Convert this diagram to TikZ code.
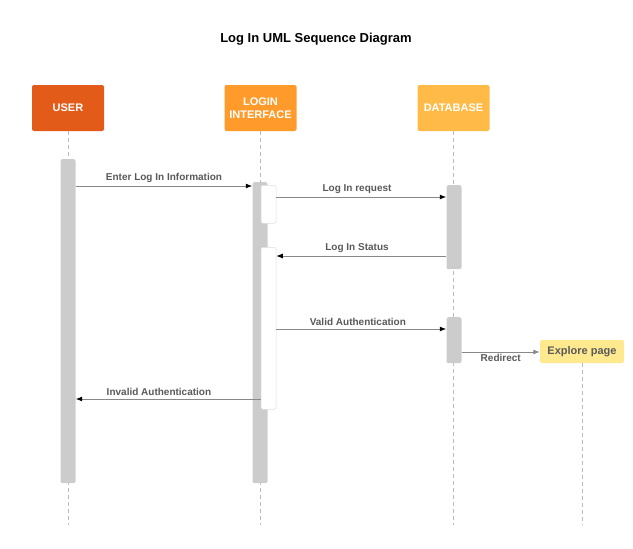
\documentclass[tikz,border=0pt]{standalone}
\usepackage{fontspec}
\setmainfont{Liberation Sans}
\usetikzlibrary{arrows.meta,positioning,calc}
\definecolor{userorange}{HTML}{E35B18}
\definecolor{loginorange}{HTML}{FF9A2B}
\definecolor{dbyellow}{HTML}{FFBA47}
\definecolor{exploreyellow}{HTML}{FFE98F}
\definecolor{bargray}{HTML}{CCCCCC}
\definecolor{subgray}{HTML}{DDDDDD}
\definecolor{lifegray}{HTML}{BBBBBB}
\definecolor{msggray}{HTML}{888888}
\definecolor{labelgray}{HTML}{595959}
\begin{document}
\begin{tikzpicture}
[x=1pt,y=-1pt,
head/.style={shape=rectangle,rounded corners=2pt,minimum width=72pt,minimum height=46pt,inner sep=0pt,text=white,font=\fontsize{11}{13}\selectfont\bfseries,align=center},
lifeline/.style={draw=lifegray,dash pattern=on 4pt off 3pt,line width=0.8pt},
bar/.style={shape=rectangle,rounded corners=2pt,fill=bargray,minimum width=15pt,inner sep=0pt,anchor=north},
subbar/.style={bar,fill=white,draw=subgray,line width=0.5pt},
msg/.style={draw=msggray,line width=1pt,-{Latex[length=6.5pt,width=5pt,color=black]}},
msglabel/.style={text=labelgray,font=\fontsize{10}{12}\selectfont\bfseries,inner sep=1pt}]

\useasboundingbox (0,0) rectangle (633,549);

\node (title) [font=\fontsize{13}{15}\selectfont\bfseries] at (316,39) {Log In UML Sequence Diagram};

\node (user) [head,fill=userorange] at (68,108) {USER};
\node (login) [head,fill=loginorange] at (260.5,108) {LOGIN\\INTERFACE};
\node (db) [head,fill=dbyellow] at (453.5,108) {DATABASE};
\node (explore) [head,fill=exploreyellow,minimum width=84pt,minimum height=23pt,text=labelgray] at (582,351.5) {Explore page};

\coordinate (bottom) at (0,525);
\draw[lifeline] (user.south) -- (user.south |- bottom);
\draw[lifeline] (login.south) -- (login.south |- bottom);
\draw[lifeline] (db.south) -- (db.south |- bottom);
\draw[lifeline] (explore.south) -- (explore.south |- bottom);

\node (useract) [bar,minimum height=324pt] at (68,159) {};
\node (loginact) [bar,minimum height=301pt] at (260,182) {};
\node (loginsub1) [subbar,minimum height=38pt] at (268.5,185) {};
\node (loginsub2) [subbar,minimum height=162pt] at (268.5,247) {};
\node (dbact1) [bar,minimum height=84pt] at (454,185) {};
\node (dbact2) [bar,minimum height=46pt] at (454,317) {};

\coordinate (m1) at (0,186);
\coordinate (m2) at (0,197);
\coordinate (m3) at (0,256);
\coordinate (m4) at (0,329);
\coordinate (m5) at (0,352);
\coordinate (m6) at (0,399);

\draw[msg] (useract.east |- m1) -- node[msglabel,above=2pt] (l1) {Enter Log In Information} (loginact.west |- m1);
\draw[msg] (loginsub1.east |- m2) -- node[msglabel,above=2pt,pos=0.475] (l2) {Log In request} (dbact1.west |- m2);
\draw[msg] (dbact1.west |- m3) -- node[msglabel,above=2pt,pos=0.525] (l3) {Log In Status} (loginsub2.east |- m3);
\draw[msg] (loginsub2.east |- m4) -- node[msglabel,above=2pt,pos=0.48] (l4) {Valid Authentication} (dbact2.west |- m4);
\draw[msg,-{Latex[length=6.5pt,width=5pt,color=msggray]}] (dbact2.east |- m5) -- node[msglabel,below=1pt] (l5) {Redirect} (explore.west |- m5);
\draw[msg] (loginsub2.west |- m6) -- node[msglabel,above=2pt,pos=0.55] (l6) {Invalid Authentication} (useract.east |- m6);

\end{tikzpicture}
\end{document}
